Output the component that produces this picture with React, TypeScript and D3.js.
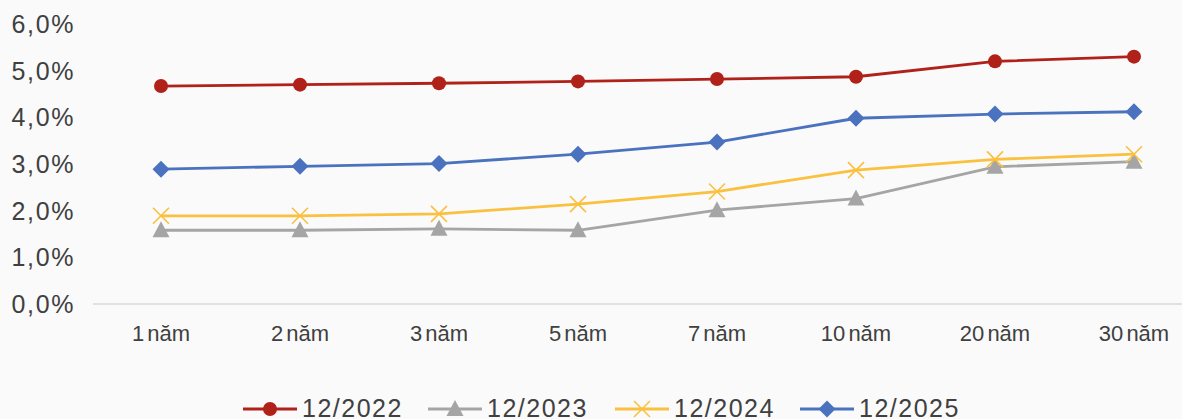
import React from "react";
import * as d3 from "d3";

const categories = ["1 năm", "2 năm", "3 năm", "5 năm", "7 năm", "10 năm", "20 năm", "30 năm"];
const s2022 = [4.67, 4.7, 4.73, 4.77, 4.82, 4.87, 5.2, 5.3];
const s2023 = [1.58, 1.58, 1.61, 1.58, 2.01, 2.26, 2.94, 3.05];
const s2024 = [1.89, 1.89, 1.93, 2.14, 2.41, 2.87, 3.1, 3.21];
const s2025 = [2.89, 2.95, 3.01, 3.21, 3.47, 3.98, 4.07, 4.12];
const yTicks = [0, 1, 2, 3, 4, 5, 6];
const seriesNames = ["12/2022", "12/2023", "12/2024", "12/2025"];

const W = 1182;
const H = 419;
const FONT = "'Liberation Sans', Arial, sans-serif";

type Kind = "circle" | "triangle" | "x" | "diamond";
const series: { name: string; values: number[]; color: string; kind: Kind }[] = [
  { name: seriesNames[0], values: s2022, color: "#B02219", kind: "circle" },
  { name: seriesNames[1], values: s2023, color: "#A5A5A5", kind: "triangle" },
  { name: seriesNames[2], values: s2024, color: "#FAC03F", kind: "x" },
  { name: seriesNames[3], values: s2025, color: "#4A72BF", kind: "diamond" },
];

function Marker({ kind, x, y, color }: { kind: Kind; x: number; y: number; color: string }) {
  if (kind === "circle") return <circle cx={x} cy={y} r={7} fill={color} />;
  if (kind === "diamond")
    return <path d={`M${x},${y - 8.5}L${x + 8.5},${y}L${x},${y + 8.5}L${x - 8.5},${y}Z`} fill={color} />;
  if (kind === "triangle")
    return <path d={`M${x},${y - 9}L${x + 8.5},${y + 7}L${x - 8.5},${y + 7}Z`} fill={color} />;
  return (
    <path
      d={`M${x - 8},${y - 8}L${x + 8},${y + 8}M${x + 8},${y - 8}L${x - 8},${y + 8}`}
      stroke={color}
      strokeWidth={1.6}
      fill="none"
    />
  );
}

export default function App() {
  const x = d3.scaleBand<string>().domain(categories).range([91.5, 1203.5]);
  const y = d3.scaleLinear().domain([0, 6]).range([304, 24]);
  const line = d3
    .line<number>()
    .x((_, i) => (x(categories[i]) as number) + x.bandwidth() / 2)
    .y((d) => y(d));

  const legendX = [243, 428, 615, 800];
  const legendY = 409;

  return (
    <svg
      width={W}
      height={H}
      style={{ position: "absolute", left: 0, top: 0, background: "#fafafa", fontFamily: FONT }}
    >
      <rect x={0} y={0} width={W} height={H} fill="#fafafa" />
      {yTicks.map((t) => (
        <text
          key={t}
          x={75}
          y={y(t) + 9}
          textAnchor="end"
          fontSize={25}
          letterSpacing={1.6}
          fill="#404040"
        >
          {d3.format(".1f")(t).replace(".", ",")}%
        </text>
      ))}
      <line x1={93} x2={W} y1={y(0)} y2={y(0)} stroke="#d9d9d9" strokeWidth={1.5} />
      {categories.map((c) => (
        <text
          key={c}
          x={(x(c) as number) + x.bandwidth() / 2}
          y={341}
          textAnchor="middle"
          fontSize={22}
          wordSpacing={-3}
          fill="#404040"
        >
          {c}
        </text>
      ))}
      {series.map((s) => (
        <g key={s.name}>
          <path d={line(s.values) || ""} fill="none" stroke={s.color} strokeWidth={2.8} />
          {s.values.map((v, i) => (
            <Marker
              key={i}
              kind={s.kind}
              x={(x(categories[i]) as number) + x.bandwidth() / 2}
              y={y(v)}
              color={s.color}
            />
          ))}
        </g>
      ))}
      {series.map((s, i) => (
        <g key={s.name}>
          <line x1={legendX[i]} x2={legendX[i] + 54} y1={legendY} y2={legendY} stroke={s.color} strokeWidth={2.8} />
          <Marker kind={s.kind} x={legendX[i] + 27} y={legendY} color={s.color} />
          <text x={legendX[i] + 59} y={417} fontSize={25} letterSpacing={1.5} fill="#404040">
            {s.name}
          </text>
        </g>
      ))}
    </svg>
  );
}
